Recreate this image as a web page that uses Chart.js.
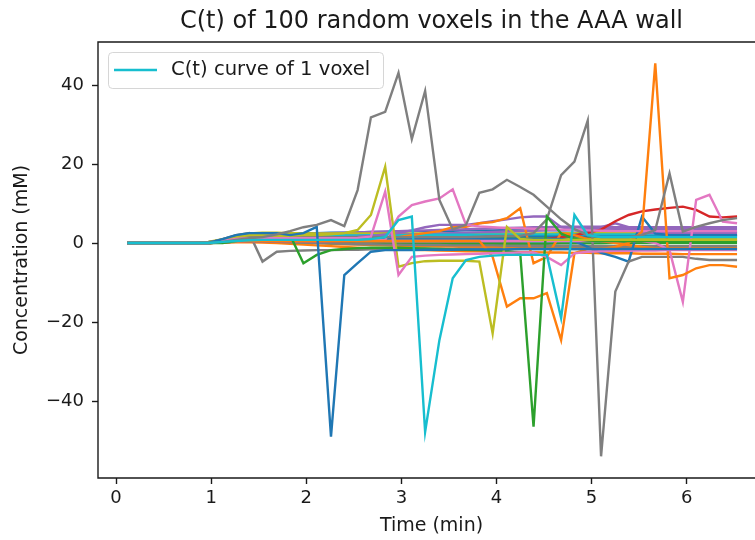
<!DOCTYPE html>
<html>
<head>
<meta charset="utf-8">
<script src="https://cdn.jsdelivr.net/npm/chart.js@4"></script>
<style>
    html, body { margin: 0; padding: 0; overflow: hidden; background: #fff; }
</style>
</head>
<body>
<canvas id="myChart" width="770" height="540"></canvas>
<script>
// time points (min), one per frame
var times = [0.12, 0.26, 0.40, 0.55, 0.69, 0.83, 0.97, 1.12, 1.26, 1.40,
    1.54, 1.69, 1.83, 1.97, 2.11, 2.26, 2.40, 2.54, 2.68, 2.83,
    2.97, 3.11, 3.25, 3.40, 3.54, 3.68, 3.82, 3.96, 4.11, 4.25,
    4.39, 4.53, 4.68, 4.82, 4.96, 5.10, 5.25, 5.39, 5.53, 5.67,
    5.82, 5.96, 6.10, 6.24, 6.38, 6.53];

var xTicks = [0, 1, 2, 3, 4, 5, 6];
var yTicks = [-40, -20, 0, 20, 40];

// voxels near the baseline
var bg1 = [0,0,0,0,0,0,0.2,0.8,1.5,2, 2.2,2.3,2.4,2.5,2.5,2.6,2.6,2.7,2.8,2.8, 2.9,3,3,3.1,3.1,3.2,3.2,3.2,3.3,3.3, 3.3,3.3,3.2,3.2,3.1,3.1,3,3,3,2.9, 2.9,2.9,2.8,2.8,2.8,2.8];
var bg2 = [0,0,0,0,0,0,0,0.3,0.6,0.8, 0.8,0.6,0.4,0.2,0,-0.2,-0.3,-0.4,-0.5,-0.6, -0.7,-0.8,-0.8,-0.9,-0.9,-1,-1,-1,-1.1,-1.1, -1.1,-1.2,-1.2,-1.2,-1.2,-1.3,-1.3,-1.3,-1.3,-1.3, -1.3,-1.3,-1.3,-1.3,-1.3,-1.3];
var bg3 = [0,0,0,0,0,0,0.1,0.5,1,1.3, 1.4,1.4,1.4,1.3,1.3,1.3,1.2,1.2,1.2,1.2, 1.2,1.2,1.2,1.2,1.2,1.2,1.2,1.2,1.2,1.2, 1.2,1.2,1.2,1.2,1.2,1.2,1.2,1.2,1.2,1.2, 1.2,1.2,1.2,1.2,1.2,1.2];
var bg4 = [0,0,0,0,0,0,0,0.4,0.9,1.2, 1.4,1.5,1.5,1.5,1.6,1.6,1.6,1.7,1.7,1.7, 1.8,1.8,1.8,1.8,1.9,1.9,1.9,1.9,2,2, 2,2,2,2,2,2,2,2,2,2, 2,2,2,2,2,2];
var bg5 = [0,0,0,0,0,0,0.2,0.7,1.3,1.8, 2,2.1,2.2,2.3,2.4,2.5,2.6,2.7,2.8,2.9, 3,3.1,3.2,3.3,3.4,3.5,3.6,3.7,3.8,3.9, 4,4,4.1,4.1,4.1,4.1,4,4,4,4, 4,4,4,4,4,4];
var bg6 = [0,0,0,0,0,0,0,0.2,0.4,0.6, 0.7,0.7,0.7,0.7,0.6,0.6,0.6,0.6,0.6,0.6, 0.6,0.6,0.6,0.5,0.5,0.5,0.5,0.5,0.5,0.5, 0.5,0.5,0.5,0.5,0.5,0.5,0.5,0.5,0.5,0.5, 0.5,0.5,0.5,0.5,0.5,0.5];
var bg7 = [0,0,0,0,0,0,0,0.3,0.7,1, 1.1,1.1,1.1,1,1,1,1,1,1,1, 1,0.9,0.9,0.9,0.9,0.9,0.9,0.9,0.9,0.9, 0.9,0.9,0.9,0.9,0.8,0.8,0.8,0.8,0.8,0.8, 0.8,0.8,0.8,0.8,0.8,0.8];
var bg8 = [0,0,0,0,0,0,0.1,0.6,1.2,1.6, 1.8,1.9,1.9,1.9,1.9,1.9,1.9,1.9,1.9,1.9, 1.9,1.9,1.9,1.9,1.9,1.9,1.9,1.9,1.9,1.9, 1.9,1.9,1.9,1.9,1.8,1.8,1.8,1.8,1.8,1.8, 1.8,1.8,1.8,1.8,1.8,1.8];
var bg9 = [0,0,0,0,0,0,0.3,1,1.8,2.4, 2.6,2.6,2.5,2.5,2.4,2.4,2.4,2.4,2.4,2.4, 2.4,2.4,2.4,2.4,2.4,2.4,2.4,2.4,2.4,2.4, 2.4,2.4,2.5,2.5,2.5,2.5,2.5,2.5,2.5,2.5, 2.5,2.5,2.5,2.5,2.5,2.5];
var bg10 = [0,0,0,0,0,0,0,0.1,0.3,0.5, 0.5,0.5,0.5,0.4,0.4,0.4,0.4,0.4,0.4,0.4, 0.4,0.4,0.4,0.4,0.4,0.3,0.3,0.3,0.3,0.3, 0.3,0.3,0.3,0.3,0.3,0.3,0.3,0.3,0.3,0.3, 0.3,0.3,0.3,0.3,0.3,0.3];
var bg11 = [0,0,0,0,0,0,0,0.2,0.5,0.8, 1,1.1,1.2,1.3,1.3,1.4,1.4,1.5,1.5,1.5, 1.6,1.6,1.6,1.6,1.6,1.7,1.7,1.7,1.7,1.7, 1.7,1.7,1.7,1.7,1.7,1.7,1.7,1.7,1.7,1.7, 1.7,1.7,1.7,1.7,1.7,1.7];
var bg12 = [0,0,0,0,0,0,0,0.1,0.2,0.2, 0.1,0,-0.2,-0.4,-0.6,-0.8,-1,-1.2,-1.4,-1.5, -1.6,-1.7,-1.8,-1.9,-2,-2.1,-2.1,-2.2,-2.2,-2.3, -2.3,-2.4,-2.4,-2.5,-2.5,-2.6,-2.6,-2.6,-2.7,-2.7, -2.7,-2.8,-2.8,-2.8,-2.8,-2.8];
var bg13 = [0,0,0,0,0,0,0,0.2,0.4,0.5, 0.5,0.4,0.3,0.2,0.1,0,0,-0.1,-0.1,-0.1, -0.2,-0.2,-0.2,-0.2,-0.2,-0.2,-0.2,-0.2,-0.2,-0.2, -0.2,-0.2,-0.1,-0.1,-0.1,-0.1,0,0,0,0, 0,0,0,0,0,0];
var bg14 = [0,0,0,0,0,0,0,0.3,0.6,0.9, 1.1,1.2,1.3,1.4,1.5,1.6,1.7,1.8,1.9,2, 2.1,2.2,2.3,2.4,2.5,2.6,2.7,2.8,2.9,3, 3.1,3.2,3.3,3.4,3.5,3.5,3.6,3.6,3.6,3.6, 3.6,3.6,3.6,3.6,3.6,3.6];
var bg15 = [0,0,0,0,0,0,0,0.2,0.4,0.5, 0.4,0.3,0.2,0.1,0,-0.1,-0.2,-0.3,-0.3,-0.4, -0.4,-0.5,-0.5,-0.5,-0.6,-0.6,-0.6,-0.6,-0.7,-0.7, -0.7,-0.7,-0.7,-0.7,-0.8,-0.8,-0.8,-0.8,-0.8,-0.8, -0.8,-0.8,-0.8,-0.8,-0.8,-0.8];
var bg16 = [0,0,0,0,0,0,0.2,0.8,1.4,1.8, 1.8,1.7,1.6,1.5,1.4,1.4,1.3,1.3,1.2,1.2, 1.2,1.1,1.1,1.1,1.1,1.1,1,1,1,1, 1,1,1,1,1,1,1,1,1,1, 1,1,1,1,1,1];
var bg17 = [0,0,0,0,0,0,0,0.2,0.6,1, 1.3,1.5,1.6,1.7,1.8,1.8,1.9,1.9,2,2, 2,2,2.1,2.1,2.1,2.1,2.1,2.2,2.2,2.2, 2.2,2.2,2.2,2.2,2.2,2.2,2.2,2.2,2.2,2.2, 2.2,2.2,2.2,2.2,2.2,2.2];

// voxels with big excursions
var gray1 = [0,0,0,0,0,0,0,0.3,0.8,1.2, 1.5,2.2,3,4,4.6,5.8,4.3,13.4,31.8,33.2, 43.1,26.3,38.5,10.9,3.5,4.6,12.7,13.6,16,14.2, 12.2,9.2,6,3.5,2,1.5,1.5,1.5,2,3.3, 17.6,2.9,4.1,5,5.8,6.3];
var gray2 = [0,0,0,0,0,0,0.2,0.8,1.2,1.5, 1.5,1.5,1.5,1.5,1.5,1.5,1.5,1.5,1.5,1.5, 1.5,1.5,1.5,1.5,1.5,1.5,1.6,1.7,1.8,1.8, 2.5,6,17.2,20.6,31,-54,-12.3,-4.7,-3.5,-3.5, -3.5,-3.5,-4,-4.3,-4.3,-4.3];
var gray3 = [0,0,0,0,0,0,0,1,2,2.5, -4.7,-2.2,-2,-1.9,-1.8,-1.8,-1.7,-1.7,-1.6,-1.6, -1.6,-1.6,-1.5,-1.5,-1.5,-1.5,-1.5,-1.5,-1.5,-1.5, -1.5,-1.5,-1.5,-1.5,-1.5,-1.5,-1.5,-1.5,-1.5,-1.5, -1.5,-1.5,-1.5,-1.5,-1.5,-1.5];
var olive1 = [0,0,0,0,0,0,0,0.8,1.5,2, 2,1.8,1.8,2,2,2.2,2.5,3.3,7.1,19.3, -6,-5.1,-4.6,-4.5,-4.5,-4.5,-4.7,-22.9,4.1,1, 0.8,0.8,0.8,0.8,0.8,0.8,0.8,0.8,0.8,0.8, 0.8,0.8,0.8,0.8,0.8,0.8];
var pink1 = [0,0,0,0,0,0,0,0.5,1,1.2, 1.2,1.2,1.2,1.2,1.2,1.2,1.2,1.3,1.6,13, -8.1,-3.5,-3.2,-3,-2.9,-2.8,-2.7,-2.6,-2.5,-2.4, -2.4,-3.5,-5.6,-2.6,-2.2,-2.1,-2,-2,-1.9,-1.9, -1.8,-1.8,-1.8,-1.8,-1.8,-1.8];
var pink2 = [0,0,0,0,0,0,0,0.4,0.8,1, 1,1,1,1,0.9,0.9,0.9,0.9,0.8,0.8, 6.7,9.6,10.5,11.3,13.6,4.6,4.2,4,3.8,3.7, 3.6,3.5,3.4,3.3,3.2,3.1,3,3,3,3, 3,3,3,3,3,3];
var pink3 = [0,0,0,0,0,0,0,0.2,0.4,0.5, 0.5,0.5,0.5,0.5,0.5,0.5,0.5,0.5,0.5,0.5, 0.5,0.5,0.5,0.5,0.5,0.5,0.5,0.5,0.5,0.5, 0.5,0.5,0.5,0.5,0.5,0.5,0.5,0.5,0.5,0, -1.8,-14.9,10.9,12.2,5.4,5];
var blue1 = [0,0,0,0,0,0,0,1,2,2.5, 2.5,2.5,2,2.5,4.1,-49,-8.1,-5.1,-2.2,-1.8, -1.8,-1.8,-1.7,-1.7,-1.7,-1.6,-1.6,-1.6,-1.6,-1.5, -1.5,-1.5,-1.5,-1.5,-1.5,-1.5,-1.5,-1.5,-1.5,-1.5, -1.5,-1.5,-1.5,-1.5,-1.5,-1.5];
var blue2 = [0,0,0,0,0,0,0,0.3,0.6,0.8, 0.9,1,1,1,1,1,1,1,1,1, 1,1,1,1,1,1,1,1,1,1, 1,1,1,0.5,-1,-2.5,-3.5,-4.7,6.7,2.4, 2,2,2,2,2,2];
var green1 = [0,0,0,0,0,0,0,0,0.5,1, 1.2,1,2,-5.1,-3,-1.8,-1.5,-1.3,-1.2,-1.2, -1.2,-1.3,-1.4,-1.5,-1.6,-1.7,-1.8,-1.9,-2,-2.6, -46.5,6.7,2.4,1,0.6,0.5,0.5,0.5,0.5,0.5, 0.5,0.5,0.5,0.5,0.5,0.5];
var orange1 = [0,0,0,0,0,0,0,0.2,0.4,0.5, 0.5,0.5,0.5,0.5,0.5,0.5,0.5,0.5,0.5,0.5, 0.5,0.5,0.5,0.5,0.5,0.5,0.5,-3.5,-16.1,-14, -14,-12.7,-24.6,-2.6,-1.5,-1.5,-1,0,2.9,45.5, -8.9,-8.1,-6.4,-5.6,-5.6,-6];
var orange2 = [0,0,0,0,0,0,0,0.3,0.6,0.9, 1,1,1.1,1.1,1.2,1.2,1.3,1.3,1.4,1.5, 1.5,2,2.5,3,4,4.1,5,5.3,6.3,8.8, -5.1,-3.5,2.5,2,1,0.5,0,-0.5,-1,-1.3, -1.3,-1.3,-1.3,-1.3,-1.3,-1.3];
var red1 = [0,0,0,0,0,0,0,0.2,0.4,0.5, 0.5,0.5,0.5,0.5,0.5,0.5,0.5,0.5,0.5,0.5, 0.5,0.5,0.5,0.5,0.5,0.5,0.5,0.5,0.5,0.5, 0.6,1,1.5,2,2.6,3.4,5.5,7.1,8,8.5, 8.9,9.2,8.4,6.7,6.5,6.7];
var purple1 = [0,0,0,0,0,0,0,0.5,1,1.2, 1.2,1.2,1.2,1.2,1.3,1.4,1.5,1.6,1.8,2.2, 2.5,3.2,4,4.6,4.6,4.6,5,5.5,6,6.5, 6.7,6.7,4,3.3,3.3,4,5,4,2.5,2.5, 2.5,2.5,2.5,2.5,2.5,2.5];
var cyan1 = [0,0,0,0,0,0,0,0.3,0.5,0.7, 0.8,0.8,0.8,0.8,0.8,0.8,0.8,0.8,1,1.5, 5.8,6.7,-47.8,-24.6,-8.9,-4.3,-3.5,-3.2,-3,-3, -3,-3,-19,7.1,2,1.5,1.5,1.5,1.5,1.5, 1.5,1.5,1.5,1.5,1.5,1.5];

var tab = {
    blue: '#1f77b4', orange: '#ff7f0e', green: '#2ca02c', red: '#d62728', purple: '#9467bd',
    brown: '#8c564b', pink: '#e377c2', gray: '#7f7f7f', olive: '#bcbd22', cyan: '#17becf'
};

// drawn in this order, last one on top (like matplotlib)
var series = [
    [bg1, 'blue'], [bg2, 'orange'], [bg3, 'green'], [bg4, 'red'], [bg5, 'purple'],
    [bg6, 'brown'], [bg7, 'pink'], [bg8, 'gray'], [bg9, 'olive'], [bg10, 'cyan'],
    [bg11, 'blue'], [bg12, 'orange'], [bg13, 'green'], [bg14, 'purple'], [bg15, 'gray'],
    [bg16, 'olive'], [bg17, 'cyan'],
    [gray3, 'gray'], [purple1, 'purple'], [red1, 'red'], [orange2, 'orange'], [blue2, 'blue'],
    [pink2, 'pink'], [gray2, 'gray'], [pink3, 'pink'], [orange1, 'orange'], [green1, 'green'],
    [olive1, 'olive'], [pink1, 'pink'], [blue1, 'blue'], [gray1, 'gray'], [cyan1, 'cyan']
];

var FONT = 'DejaVu Sans';
var INK = '#1a1a1a';

var datasets = [];
for (let i = 0; i < series.length; i++) {
    var vals = series[i][0];
    datasets.push({
        label: i === series.length - 1 ? 'C(t) curve of 1 voxel' : '',
        data: times.map(function (t, j) { return {x: t, y: vals[j]}; }),
        borderColor: tab[series[i][1]],
        borderWidth: 2.4,
        pointRadius: 0,
        tension: 0,
        fill: false,
        order: series.length - i
    });
}

var frame = {
    id: 'frame',
    afterDraw: function (chart) {
        var c = chart.ctx, a = chart.chartArea;
        c.save();
        // spines (right one is cut off in the picture)
        c.strokeStyle = INK;
        c.lineWidth = 1.4;
        c.beginPath();
        c.moveTo(a.right + 2, a.top);
        c.lineTo(a.left, a.top);
        c.lineTo(a.left, a.bottom);
        c.lineTo(a.right + 2, a.bottom);
        c.stroke();

        // title
        c.fillStyle = INK;
        c.font = '24px "' + FONT + '"';
        c.textAlign = 'center';
        c.textBaseline = 'alphabetic';
        c.fillText('C(t) of 100 random voxels in the AAA wall', (a.left + a.right) / 2, 28);

        // legend
        var bx = 108, by = 52, bw = 275, bh = 36;
        c.globalAlpha = 0.8;
        c.fillStyle = '#fff';
        c.strokeStyle = '#cccccc';
        c.lineWidth = 1;
        c.beginPath();
        c.roundRect(bx + 0.5, by + 0.5, bw, bh, 4);
        c.fill();
        c.stroke();
        c.globalAlpha = 1;
        c.strokeStyle = tab.cyan;
        c.lineWidth = 2.4;
        c.beginPath();
        c.moveTo(114, 70);
        c.lineTo(157, 70);
        c.stroke();
        c.fillStyle = INK;
        c.font = '19.6px "' + FONT + '"';
        c.textAlign = 'left';
        c.textBaseline = 'middle';
        c.fillText(chart.data.datasets[chart.data.datasets.length - 1].label, 171, 70);
        c.restore();
    }
};

var ctx = document.getElementById('myChart').getContext('2d');
var chart = new Chart(ctx, {
    type: 'line',
    data: {datasets: datasets},
    options: {
        responsive: false,
        animation: false,
        layout: {padding: {top: 42, right: 5, left: 0, bottom: 0}},
        plugins: {
            legend: {display: false},
            tooltip: {enabled: false}
        },
        scales: {
            x: {
                type: 'linear',
                min: -0.19,
                max: 6.824,
                afterBuildTicks: function (s) { s.ticks = xTicks.map(function (v) { return {value: v}; }); },
                afterFit: function (s) { s.height = 62; },
                border: {display: false},
                grid: {drawOnChartArea: false, drawTicks: true, tickLength: 6, tickWidth: 1.4, tickColor: INK},
                ticks: {font: {family: FONT, size: 18}, color: INK, padding: 4, maxRotation: 0, autoSkip: false},
                title: {display: true, text: 'Time (min)', font: {family: FONT, size: 19}, color: INK, padding: {top: 0, bottom: 3}}
            },
            y: {
                type: 'linear',
                min: -59.49,
                max: 50.89,
                afterBuildTicks: function (s) { s.ticks = yTicks.map(function (v) { return {value: v}; }); },
                afterFit: function (s) { s.width = 98; },
                border: {display: false},
                grid: {drawOnChartArea: false, drawTicks: true, tickLength: 6, tickWidth: 1.4, tickColor: INK},
                ticks: {
                    font: {family: FONT, size: 18}, color: INK, padding: 8,
                    callback: function (v) { return String(v).replace('-', '\u2212'); }
                },
                title: {display: true, text: 'Concentration (mM)', font: {family: FONT, size: 19}, color: INK, padding: {top: 11, bottom: 0}}
            }
        }
    },
    plugins: [frame]
});
</script>
</body>
</html>
